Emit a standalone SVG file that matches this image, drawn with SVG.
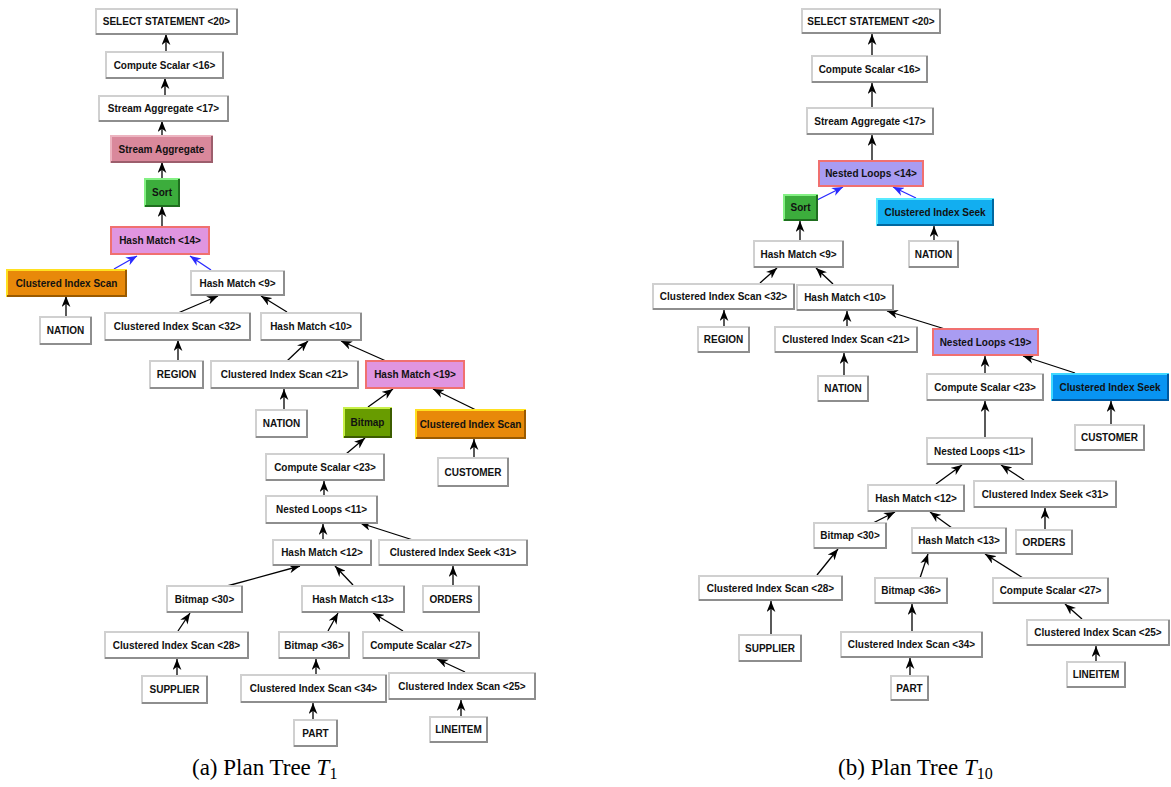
<svg xmlns="http://www.w3.org/2000/svg" width="1171" height="787" viewBox="0 0 1171 787">
<style>
.w{fill:#fff;stroke:#d0d0d0;stroke-width:2}
.sh{fill:none;stroke:#8e8e8e;stroke-width:2}
.t{font-family:"Liberation Sans",Arial,sans-serif;font-weight:bold;font-size:10px;text-anchor:middle;fill:#111}
.pink{fill:#d9889b;stroke:#ecb4c0;stroke-width:2}.pinksh{fill:none;stroke:#9c5e6c;stroke-width:2}
.grn{fill:#3cad3c;stroke:#84f084;stroke-width:2}.grnsh{fill:none;stroke:#1f6e1f;stroke-width:2}
.bmp{fill:#689c00;stroke:#c8f048;stroke-width:2}.bmpsh{fill:none;stroke:#3c5c00;stroke-width:2}
.org{fill:#e8890a;stroke:#ffe020;stroke-width:2}.orgsh{fill:none;stroke:#9a5a00;stroke-width:2}
.hv{fill:#e095e0;stroke:#f07070;stroke-width:2}
.lav{fill:#a99cf2;stroke:#f07070;stroke-width:2}
.bl1{fill:#12aef0;stroke:#58eaff;stroke-width:2}.bl1sh{fill:none;stroke:#0068a0;stroke-width:2}
.bl2{fill:#0894f2;stroke:#40d8ff;stroke-width:2}.bl2sh{fill:none;stroke:#0058a0;stroke-width:2}
.e{fill:none;stroke:#000;stroke-width:1.3;marker-end:url(#ah)}
.eb{fill:none;stroke:#2a2aff;stroke-width:1.3;marker-end:url(#ahb)}
.cap{font-family:"Liberation Serif","Times New Roman",serif;font-size:23px;fill:#000}
</style>
<defs>
<marker id="ah" markerUnits="userSpaceOnUse" viewBox="0 0 10 8" refX="10" refY="4" markerWidth="11" markerHeight="9" orient="auto"><path d="M0,0 L10,4 L0,8 L3,4 z" fill="#000"/></marker>
<marker id="ahb" markerUnits="userSpaceOnUse" viewBox="0 0 10 8" refX="10" refY="4" markerWidth="11" markerHeight="9" orient="auto"><path d="M0,0 L10,4 L0,8 L3,4 z" fill="#2a2aff"/></marker>
</defs>

<g id="connectors">
<path class="e" d="M166,52 L166,34"/>
<path class="e" d="M165,96 L165,78"/>
<path class="e" d="M162,136 L162,121"/>
<path class="e" d="M162,179 L162,162"/>
<path class="e" d="M162,227 L162,206"/>
<path class="eb" d="M114,269 L137,256"/>
<path class="eb" d="M211,270 L190,256"/>
<path class="e" d="M66,317 L66,296"/>
<path class="e" d="M178,313 L218,296"/>
<path class="e" d="M287,312 L261,296"/>
<path class="e" d="M178,361 L178,340"/>
<path class="e" d="M287,361 L308,341"/>
<path class="e" d="M386,361 L341,341"/>
<path class="e" d="M284,410 L284,389"/>
<path class="e" d="M368,407 L393,389"/>
<path class="e" d="M476,410 L433,389"/>
<path class="e" d="M346,454 L365,438"/>
<path class="e" d="M474,458 L474,439"/>
<path class="e" d="M324,496 L324,481"/>
<path class="e" d="M323,540 L323,524"/>
<path class="e" d="M413,540 L360,523"/>
<path class="e" d="M227,586 L300,566"/>
<path class="e" d="M353,585 L335,566"/>
<path class="e" d="M453,586 L453,566"/>
<path class="e" d="M178,631 L190,613"/>
<path class="e" d="M328,631 L338,613"/>
<path class="e" d="M403,631 L373,613"/>
<path class="e" d="M177,676 L177,659"/>
<path class="e" d="M316,675 L316,659"/>
<path class="e" d="M465,672 L437,659"/>
<path class="e" d="M313,720 L313,703"/>
<path class="e" d="M461,717 L461,700"/>

<path class="e" d="M872,56 L872,34"/>
<path class="e" d="M872,108 L872,83"/>
<path class="e" d="M872,161 L872,135"/>
<path class="eb" d="M817,200 L843,187"/>
<path class="eb" d="M916,198 L893,187"/>
<path class="e" d="M800,241 L800,221"/>
<path class="e" d="M934,241 L934,226"/>
<path class="e" d="M760,283 L777,268"/>
<path class="e" d="M833,284 L816,268"/>
<path class="e" d="M724,327 L724,310"/>
<path class="e" d="M847,327 L847,311"/>
<path class="e" d="M945,329 L887,311"/>
<path class="e" d="M844,376 L844,353"/>
<path class="e" d="M985,374 L985,356"/>
<path class="e" d="M1075,373 L1023,356"/>
<path class="e" d="M985,438 L985,401"/>
<path class="e" d="M1111,425 L1111,401"/>
<path class="e" d="M936,484 L962,465"/>
<path class="e" d="M1024,480 L1001,465"/>
<path class="e" d="M873,523 L895,512"/>
<path class="e" d="M952,528 L930,512"/>
<path class="e" d="M1045,530 L1045,508"/>
<path class="e" d="M817,575 L838,549"/>
<path class="e" d="M920,578 L928,554"/>
<path class="e" d="M1023,578 L985,554"/>
<path class="e" d="M771,635 L771,601"/>
<path class="e" d="M912,632 L912,604"/>
<path class="e" d="M1082,619 L1065,604"/>
<path class="e" d="M910,676 L910,658"/>
<path class="e" d="M1096,662 L1096,646"/>
</g>

<g id="L1"><rect class="w" x="96" y="9" width="141" height="25"/><path class="sh" d="M237,9 L237,34 L96,34"/><text class="t" x="166.5" y="25">SELECT STATEMENT &lt;20&gt;</text></g>
<g id="L2"><rect class="w" x="106" y="52" width="117" height="26"/><path class="sh" d="M223,52 L223,78 L106,78"/><text class="t" x="164.5" y="68.5">Compute Scalar &lt;16&gt;</text></g>
<g id="L3"><rect class="w" x="99" y="96" width="129" height="25"/><path class="sh" d="M228,96 L228,121 L99,121"/><text class="t" x="163.5" y="112">Stream Aggregate &lt;17&gt;</text></g>
<g id="L4"><rect class="pink" x="111" y="136" width="101" height="26"/><path class="pinksh" d="M212,136 L212,162 L111,162"/><text class="t" x="161.5" y="152.5">Stream Aggregate</text></g>
<g id="L5"><rect class="grn" x="145" y="179" width="34" height="27"/><path class="grnsh" d="M179,179 L179,206 L145,206"/><text class="t" x="162" y="196">Sort</text></g>
<g id="L6"><rect class="hv" x="111" y="227" width="98" height="27"/><text class="t" x="160" y="244">Hash Match &lt;14&gt;</text></g>
<g id="L7"><rect class="org" x="7" y="270" width="119" height="26"/><path class="orgsh" d="M126,270 L126,296 L7,296"/><text class="t" x="66.5" y="286.5">Clustered Index Scan</text></g>
<g id="L8"><rect class="w" x="191" y="271" width="93" height="24"/><path class="sh" d="M284,271 L284,295 L191,295"/><text class="t" x="237.5" y="286.5">Hash Match &lt;9&gt;</text></g>
<g id="L9"><rect class="w" x="40" y="317" width="51" height="27"/><path class="sh" d="M91,317 L91,344 L40,344"/><text class="t" x="65.5" y="334">NATION</text></g>
<g id="L10"><rect class="w" x="105" y="313" width="145" height="27"/><path class="sh" d="M250,313 L250,340 L105,340"/><text class="t" x="177.5" y="330">Clustered Index Scan &lt;32&gt;</text></g>
<g id="L11"><rect class="w" x="261" y="313" width="100" height="27"/><path class="sh" d="M361,313 L361,340 L261,340"/><text class="t" x="311" y="330">Hash Match &lt;10&gt;</text></g>
<g id="L12"><rect class="w" x="150" y="361" width="53" height="27"/><path class="sh" d="M203,361 L203,388 L150,388"/><text class="t" x="176.5" y="378">REGION</text></g>
<g id="L13"><rect class="w" x="211" y="361" width="147" height="27"/><path class="sh" d="M358,361 L358,388 L211,388"/><text class="t" x="284.5" y="378">Clustered Index Scan &lt;21&gt;</text></g>
<g id="L14"><rect class="hv" x="366" y="361" width="98" height="27"/><text class="t" x="415" y="378">Hash Match &lt;19&gt;</text></g>
<g id="L15"><rect class="w" x="256" y="410" width="51" height="27"/><path class="sh" d="M307,410 L307,437 L256,437"/><text class="t" x="281.5" y="427">NATION</text></g>
<g id="L16"><rect class="bmp" x="344" y="408" width="47" height="29"/><path class="bmpsh" d="M391,408 L391,437 L344,437"/><text class="t" x="367.5" y="426">Bitmap</text></g>
<g id="L17"><rect class="org" x="416" y="410" width="109" height="28"/><path class="orgsh" d="M525,410 L525,438 L416,438"/><text class="t" x="470.5" y="427.5">Clustered Index Scan</text></g>
<g id="L18"><rect class="w" x="266" y="454" width="118" height="26"/><path class="sh" d="M384,454 L384,480 L266,480"/><text class="t" x="325" y="470.5">Compute Scalar &lt;23&gt;</text></g>
<g id="L19"><rect class="w" x="438" y="458" width="70" height="28"/><path class="sh" d="M508,458 L508,486 L438,486"/><text class="t" x="473" y="475.5">CUSTOMER</text></g>
<g id="L20"><rect class="w" x="266" y="496" width="111" height="27"/><path class="sh" d="M377,496 L377,523 L266,523"/><text class="t" x="321.5" y="513">Nested Loops &lt;11&gt;</text></g>
<g id="L21"><rect class="w" x="273" y="540" width="98" height="25"/><path class="sh" d="M371,540 L371,565 L273,565"/><text class="t" x="322" y="556">Hash Match &lt;12&gt;</text></g>
<g id="L22"><rect class="w" x="379" y="540" width="148" height="25"/><path class="sh" d="M527,540 L527,565 L379,565"/><text class="t" x="453" y="556">Clustered Index Seek &lt;31&gt;</text></g>
<g id="L23"><rect class="w" x="167" y="586" width="75" height="26"/><path class="sh" d="M242,586 L242,612 L167,612"/><text class="t" x="204.5" y="602.5">Bitmap &lt;30&gt;</text></g>
<g id="L24"><rect class="w" x="302" y="586" width="102" height="26"/><path class="sh" d="M404,586 L404,612 L302,612"/><text class="t" x="353" y="602.5">Hash Match &lt;13&gt;</text></g>
<g id="L25"><rect class="w" x="423" y="586" width="56" height="26"/><path class="sh" d="M479,586 L479,612 L423,612"/><text class="t" x="451" y="602.5">ORDERS</text></g>
<g id="L26"><rect class="w" x="105" y="632" width="143" height="26"/><path class="sh" d="M248,632 L248,658 L105,658"/><text class="t" x="176.5" y="648.5">Clustered Index Scan &lt;28&gt;</text></g>
<g id="L27"><rect class="w" x="279" y="632" width="70" height="26"/><path class="sh" d="M349,632 L349,658 L279,658"/><text class="t" x="314" y="648.5">Bitmap &lt;36&gt;</text></g>
<g id="L28"><rect class="w" x="363" y="632" width="116" height="26"/><path class="sh" d="M479,632 L479,658 L363,658"/><text class="t" x="421" y="648.5">Compute Scalar &lt;27&gt;</text></g>
<g id="L29"><rect class="w" x="142" y="676" width="65" height="27"/><path class="sh" d="M207,676 L207,703 L142,703"/><text class="t" x="174.5" y="693">SUPPLIER</text></g>
<g id="L30"><rect class="w" x="241" y="675" width="145" height="27"/><path class="sh" d="M386,675 L386,702 L241,702"/><text class="t" x="313.5" y="692">Clustered Index Scan &lt;34&gt;</text></g>
<g id="L31"><rect class="w" x="389" y="673" width="146" height="26"/><path class="sh" d="M535,673 L535,699 L389,699"/><text class="t" x="462" y="689.5">Clustered Index Scan &lt;25&gt;</text></g>
<g id="L32"><rect class="w" x="294" y="720" width="43" height="26"/><path class="sh" d="M337,720 L337,746 L294,746"/><text class="t" x="315.5" y="736.5">PART</text></g>
<g id="L33"><rect class="w" x="430" y="717" width="57" height="25"/><path class="sh" d="M487,717 L487,742 L430,742"/><text class="t" x="458.5" y="733">LINEITEM</text></g>

<g id="R1"><rect class="w" x="802" y="9" width="138" height="24"/><path class="sh" d="M940,9 L940,33 L802,33"/><text class="t" x="871" y="24.5">SELECT STATEMENT &lt;20&gt;</text></g>
<g id="R2"><rect class="w" x="812" y="56" width="115" height="26"/><path class="sh" d="M927,56 L927,82 L812,82"/><text class="t" x="869.5" y="72.5">Compute Scalar &lt;16&gt;</text></g>
<g id="R3"><rect class="w" x="807" y="108" width="126" height="26"/><path class="sh" d="M933,108 L933,134 L807,134"/><text class="t" x="870" y="124.5">Stream Aggregate &lt;17&gt;</text></g>
<g id="R4"><rect class="lav" x="819" y="161" width="104" height="25"/><text class="t" x="871" y="177">Nested Loops &lt;14&gt;</text></g>
<g id="R5"><rect class="grn" x="784" y="195" width="33" height="25"/><path class="grnsh" d="M817,195 L817,220 L784,220"/><text class="t" x="800.5" y="211">Sort</text></g>
<g id="R6"><rect class="bl1" x="877" y="199" width="116" height="26"/><path class="bl1sh" d="M993,199 L993,225 L877,225"/><text class="t" x="935" y="215.5">Clustered Index Seek</text></g>
<g id="R7"><rect class="w" x="754" y="241" width="89" height="26"/><path class="sh" d="M843,241 L843,267 L754,267"/><text class="t" x="798.5" y="257.5">Hash Match &lt;9&gt;</text></g>
<g id="R8"><rect class="w" x="909" y="241" width="49" height="26"/><path class="sh" d="M958,241 L958,267 L909,267"/><text class="t" x="933.5" y="257.5">NATION</text></g>
<g id="R9"><rect class="w" x="653" y="284" width="141" height="25"/><path class="sh" d="M794,284 L794,309 L653,309"/><text class="t" x="723.5" y="300">Clustered Index Scan &lt;32&gt;</text></g>
<g id="R10"><rect class="w" x="797" y="285" width="96" height="25"/><path class="sh" d="M893,285 L893,310 L797,310"/><text class="t" x="845" y="301">Hash Match &lt;10&gt;</text></g>
<g id="R11"><rect class="w" x="698" y="327" width="51" height="25"/><path class="sh" d="M749,327 L749,352 L698,352"/><text class="t" x="723.5" y="343">REGION</text></g>
<g id="R12"><rect class="w" x="775" y="327" width="142" height="25"/><path class="sh" d="M917,327 L917,352 L775,352"/><text class="t" x="846" y="343">Clustered Index Scan &lt;21&gt;</text></g>
<g id="R13"><rect class="lav" x="933" y="329" width="105" height="26"/><text class="t" x="985.5" y="345.5">Nested Loops &lt;19&gt;</text></g>
<g id="R14"><rect class="w" x="818" y="376" width="50" height="25"/><path class="sh" d="M868,376 L868,401 L818,401"/><text class="t" x="843" y="392">NATION</text></g>
<g id="R15"><rect class="w" x="927" y="374" width="116" height="26"/><path class="sh" d="M1043,374 L1043,400 L927,400"/><text class="t" x="985" y="390.5">Compute Scalar &lt;23&gt;</text></g>
<g id="R16"><rect class="bl2" x="1052" y="374" width="116" height="26"/><path class="bl2sh" d="M1168,374 L1168,400 L1052,400"/><text class="t" x="1110" y="390.5">Clustered Index Seek</text></g>
<g id="R17"><rect class="w" x="927" y="438" width="105" height="26"/><path class="sh" d="M1032,438 L1032,464 L927,464"/><text class="t" x="979.5" y="454.5">Nested Loops &lt;11&gt;</text></g>
<g id="R18"><rect class="w" x="1075" y="425" width="69" height="25"/><path class="sh" d="M1144,425 L1144,450 L1075,450"/><text class="t" x="1109.5" y="441">CUSTOMER</text></g>
<g id="R19"><rect class="w" x="868" y="485" width="96" height="26"/><path class="sh" d="M964,485 L964,511 L868,511"/><text class="t" x="916" y="501.5">Hash Match &lt;12&gt;</text></g>
<g id="R20"><rect class="w" x="974" y="481" width="142" height="26"/><path class="sh" d="M1116,481 L1116,507 L974,507"/><text class="t" x="1045" y="497.5">Clustered Index Seek &lt;31&gt;</text></g>
<g id="R21"><rect class="w" x="814" y="523" width="72" height="25"/><path class="sh" d="M886,523 L886,548 L814,548"/><text class="t" x="850" y="539">Bitmap &lt;30&gt;</text></g>
<g id="R22"><rect class="w" x="912" y="528" width="94" height="25"/><path class="sh" d="M1006,528 L1006,553 L912,553"/><text class="t" x="959" y="544">Hash Match &lt;13&gt;</text></g>
<g id="R23"><rect class="w" x="1016" y="530" width="56" height="24"/><path class="sh" d="M1072,530 L1072,554 L1016,554"/><text class="t" x="1044" y="545.5">ORDERS</text></g>
<g id="R24"><rect class="w" x="699" y="576" width="143" height="24"/><path class="sh" d="M842,576 L842,600 L699,600"/><text class="t" x="770.5" y="591.5">Clustered Index Scan &lt;28&gt;</text></g>
<g id="R25"><rect class="w" x="875" y="578" width="72" height="25"/><path class="sh" d="M947,578 L947,603 L875,603"/><text class="t" x="911" y="594">Bitmap &lt;36&gt;</text></g>
<g id="R26"><rect class="w" x="993" y="578" width="115" height="25"/><path class="sh" d="M1108,578 L1108,603 L993,603"/><text class="t" x="1050.5" y="594">Compute Scalar &lt;27&gt;</text></g>
<g id="R27"><rect class="w" x="739" y="635" width="62" height="26"/><path class="sh" d="M801,635 L801,661 L739,661"/><text class="t" x="770" y="651.5">SUPPLIER</text></g>
<g id="R28"><rect class="w" x="841" y="632" width="141" height="25"/><path class="sh" d="M982,632 L982,657 L841,657"/><text class="t" x="911.5" y="648">Clustered Index Scan &lt;34&gt;</text></g>
<g id="R29"><rect class="w" x="1027" y="620" width="142" height="25"/><path class="sh" d="M1169,620 L1169,645 L1027,645"/><text class="t" x="1098" y="636">Clustered Index Scan &lt;25&gt;</text></g>
<g id="R30"><rect class="w" x="891" y="676" width="37" height="24"/><path class="sh" d="M928,676 L928,700 L891,700"/><text class="t" x="909.5" y="691.5">PART</text></g>
<g id="R31"><rect class="w" x="1067" y="662" width="58" height="25"/><path class="sh" d="M1125,662 L1125,687 L1067,687"/><text class="t" x="1096" y="678">LINEITEM</text></g>

<g id="captions">
<text class="cap" x="192" y="775">(a) Plan Tree <tspan font-style="italic">T</tspan><tspan font-size="16" dy="4">1</tspan></text>
<text class="cap" x="838" y="775">(b) Plan Tree <tspan font-style="italic">T</tspan><tspan font-size="16" dy="4">10</tspan></text>
</g>
</svg>
